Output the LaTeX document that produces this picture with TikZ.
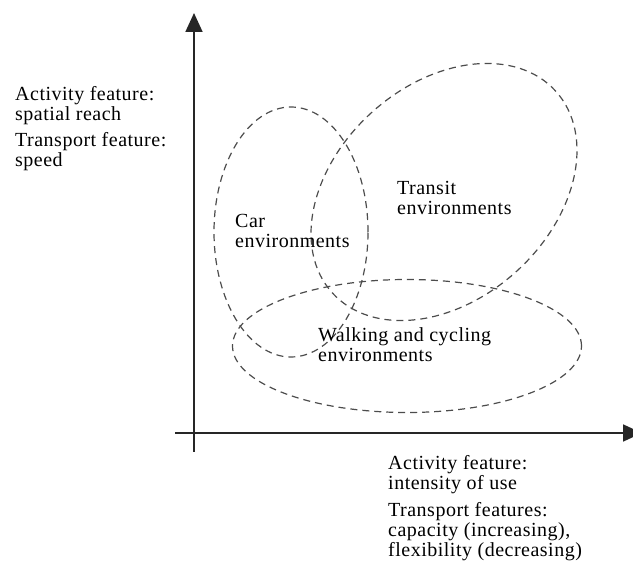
\documentclass[tikz,border=0pt]{standalone}
\usepackage{fontspec}
\setmainfont{Liberation Serif}[LetterSpace=2.5]
\usetikzlibrary{arrows.meta,shapes.geometric}
\tikzset{
  axis/.style={line width=1.8pt, draw=black!85, -{Triangle[width=17pt,length=19pt]}},
  region/.style={ellipse, draw=black!70, dash pattern=on 7pt off 5pt, line width=1.2pt, inner sep=0pt},
  txt/.style={align=left, anchor=north west, inner sep=0pt, font=\fontsize{20}{20}\selectfont}
}
\begin{document}
\begin{tikzpicture}[x=1pt,y=-1pt]
  \useasboundingbox (0,0) rectangle (633,564);
  \coordinate (ytop) at (194,13);
  \coordinate (ybot) at (194,452);
  \coordinate (xleft) at (175,433);
  \coordinate (xright) at (642,433);
  \draw[axis] (ybot) -- (ytop);
  \draw[axis] (xleft) -- (xright);
  \node[region, minimum width=154pt, minimum height=250pt] (car) at (291,232) {};
  \node[region, minimum width=301pt, minimum height=215pt, rotate=42] (transit) at (444,192) {};
  \node[region, minimum width=349pt, minimum height=133pt] (walk) at (407,346) {};
  \node[txt] (carlbl) at (235,214) {Car\\environments};
  \node[txt] (transitlbl) at (397,181) {Transit\\environments};
  \node[txt] (walklbl) at (318,327) {Walking and cycling\\environments};
  \node[txt] (reachlbl) at (15,86) {Activity feature:\\spatial reach};
  \node[txt] (speedlbl) at (15,132) {Transport feature:\\speed};
  \node[txt] (uselbl) at (388,455) {Activity feature:\\intensity of use};
  \node[txt] (capacitylbl) at (388,502) {Transport features:\\capacity (increasing),\\flexibility (decreasing)};
\end{tikzpicture}
\end{document}
